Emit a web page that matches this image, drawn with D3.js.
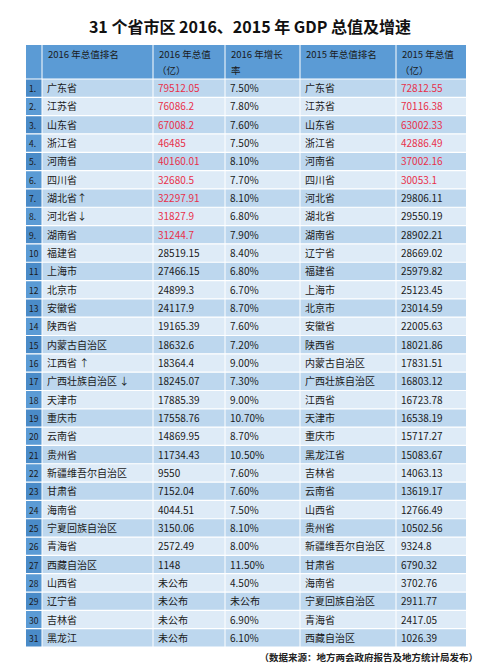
<!DOCTYPE html>
<html><head><meta charset="utf-8">
<script src="https://cdn.jsdelivr.net/npm/d3@7"></script>
<style>body{margin:0;background:#fff;font-family:"Noto Sans CJK SC","Noto Sans",sans-serif}</style>
</head><body>
<svg id="chart" width="500" height="672"></svg>
<script>
// table data
const headers = ['', '2016 年总值排名', '2016 年总值|（亿）', '2016 年增长|率', '2015 年总值排名', '2015 年总值|（亿）'];
const ranks = d3.range(1, 32).map(i => i < 10 ? i + '.' : String(i));
const names2016 = ['广东省','江苏省','山东省','浙江省','河南省','四川省','湖北省↑','河北省↓','湖南省','福建省','上海市','北京市','安徽省','陕西省','内蒙古自治区','江西省 ↑','广西壮族自治区 ↓','天津市','重庆市','云南省','贵州省','新疆维吾尔自治区','甘肃省','海南省','宁夏回族自治区','青海省','西藏自治区','山西省','辽宁省','吉林省','黑龙江'];
const gdp2016 = ['79512.05','76086.2','67008.2','46485','40160.01','32680.5','32297.91','31827.9','31244.7','28519.15','27466.15','24899.3','24117.9','19165.39','18632.6','18364.4','18245.07','17885.39','17558.76','14869.95','11734.43','9550','7152.04','4044.51','3150.06','2572.49','1148','未公布','未公布','未公布','未公布'];
const growth2016 = ['7.50%','7.80%','7.60%','7.50%','8.10%','7.70%','8.10%','6.80%','7.90%','8.40%','6.80%','6.70%','8.70%','7.60%','7.20%','9.00%','7.30%','9.00%','10.70%','8.70%','10.50%','7.60%','7.60%','7.50%','8.10%','8.00%','11.50%','4.50%','未公布','6.90%','6.10%'];
const names2015 = ['广东省','江苏省','山东省','浙江省','河南省','四川省','河北省','湖北省','湖南省','辽宁省','福建省','上海市','北京市','安徽省','陕西省','内蒙古自治区','广西壮族自治区','江西省','天津市','重庆市','黑龙江省','吉林省','云南省','山西省','贵州省','新疆维吾尔自治区','甘肃省','海南省','宁夏回族自治区','青海省','西藏自治区'];
const gdp2015 = ['72812.55','70116.38','63002.33','42886.49','37002.16','30053.1','29806.11','29550.19','28902.21','28669.02','25979.82','25123.45','23014.59','22005.63','18021.86','17831.51','16803.12','16723.78','16538.19','15717.27','15083.67','14063.13','13619.17','12766.49','10502.56','9324.8','6790.32','3702.76','2911.77','2417.05','1026.39'];
const red2016 = 9, red2015 = 6;

const svg = d3.select('#chart');
const colEdges = [26, 42, 153, 225, 300, 396, 466];
const x = d3.scaleOrdinal().domain(d3.range(6)).range(colEdges.slice(0, 6));
const headTop = 45, headH = 34;
const y = d3.scaleBand().domain(d3.range(31)).range([79, 647]).paddingInner(0);

svg.append('text').attr('x', 250).attr('y', 33).attr('text-anchor', 'middle')
  .attr('font-size', 16).attr('font-weight', 'bold').attr('fill', '#111')
  .text('31 个省市区 2016、2015 年 GDP 总值及增速');

// header
svg.append('rect').attr('x', 26).attr('y', headTop).attr('width', 440).attr('height', headH).attr('fill', '#5b9bd5');
headers.forEach((h, i) => {
  const t = svg.append('text').attr('x', x(i) + 6).attr('y', headTop + 13).attr('font-size', 9.5).attr('fill', '#1a1a1a');
  h.split('|').forEach((ln, j) => t.append('tspan').attr('x', x(i) + (j && ln.startsWith('（') ? 4 : 6)).attr('dy', j ? 16 : 0).text(ln));
});

const rows = d3.range(31).map(i => [ranks[i], names2016[i], gdp2016[i], growth2016[i], names2015[i], gdp2015[i]]);
const g = svg.append('g');
const row = g.selectAll('g').data(rows).join('g').attr('transform', (d, i) => `translate(0,${y(i)})`);
row.append('rect').attr('x', 26).attr('width', 440).attr('height', y.bandwidth())
  .attr('fill', (d, i) => i % 2 ? '#deebf7' : '#bdd7ee');
row.append('rect').attr('x', 26).attr('width', 16).attr('height', y.bandwidth())
  .attr('fill', (d, i) => i % 2 ? '#5b9bd5' : '#4a8bc8');
row.selectAll('text').data((d, i) => d.map((v, c) => ({v, c, i}))).join('text')
  .attr('x', d => x(d.c) + (d.c === 0 ? 3 : 5))
  .attr('y', y.bandwidth() / 2 + 4)
  .attr('font-size', d => d.c === 0 ? 8.5 : 10)
  .attr('fill', d => (d.c === 2 && d.i < red2016) || (d.c === 5 && d.i < red2015) ? '#e8304a' : '#1a1a1a')
  .text(d => d.v);

// white grid lines
g.selectAll('line.h').data(d3.range(32)).join('line')
  .attr('x1', 26).attr('x2', 466).attr('y1', i => y(0) + i * y.bandwidth()).attr('y2', i => y(0) + i * y.bandwidth())
  .attr('stroke', '#fff').attr('stroke-width', 1.2);
g.selectAll('line.v').data(colEdges.slice(1, 6)).join('line')
  .attr('x1', d => d).attr('x2', d => d).attr('y1', headTop).attr('y2', 647)
  .attr('stroke', '#fff').attr('stroke-width', 1);

svg.append('text').attr('x', 478).attr('y', 661).attr('text-anchor', 'end')
  .attr('font-size', 9.5).attr('font-weight', 'bold').attr('fill', '#222')
  .text('（数据来源：地方两会政府报告及地方统计局发布）');
</script>
</body></html>
